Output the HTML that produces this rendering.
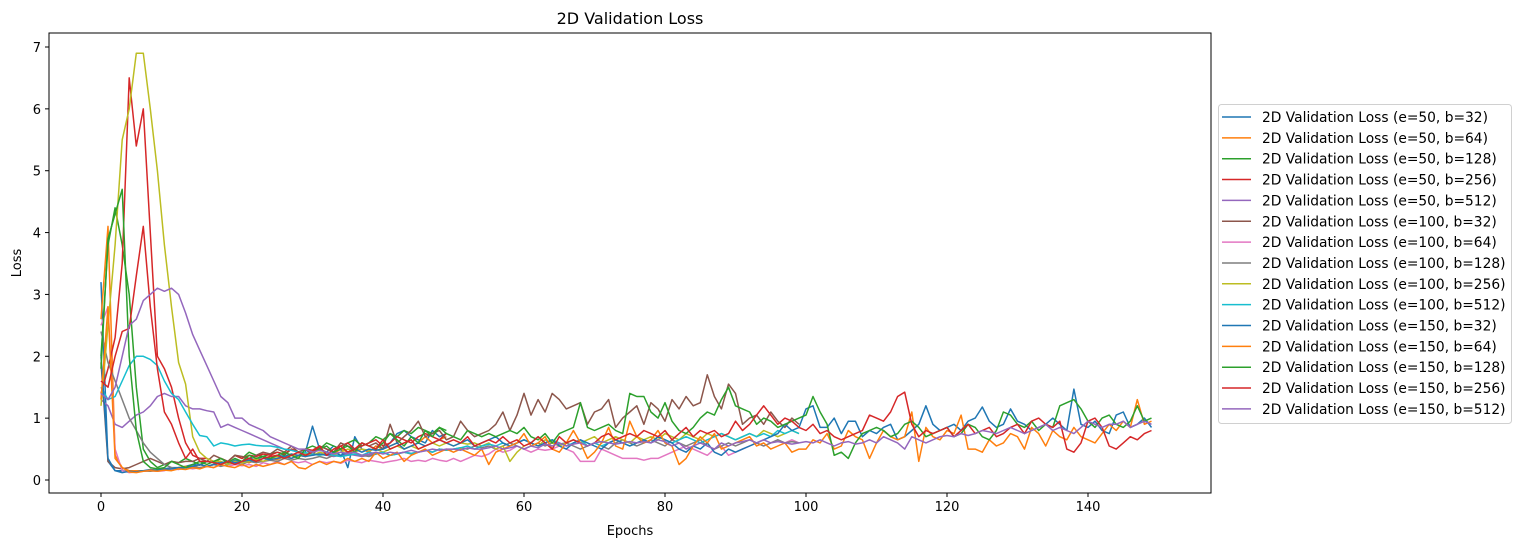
<!DOCTYPE html>
<html><head><meta charset="utf-8"><style>
body{margin:0;background:#fff;width:1522px;height:547px;overflow:hidden;font-family:"DejaVu Sans","Liberation Sans",sans-serif;}
svg text{font-family:"DejaVu Sans","Liberation Sans",sans-serif;}
</style></head><body>
<svg id="chart" width="1522" height="547" xmlns="http://www.w3.org/2000/svg"></svg>
<script>
const xTicks=[0,20,40,60,80,100,120,140];
const yTicks=[0,1,2,3,4,5,6,7];
const seriesLabels=["2D Validation Loss (e=50, b=32)","2D Validation Loss (e=50, b=64)","2D Validation Loss (e=50, b=128)","2D Validation Loss (e=50, b=256)","2D Validation Loss (e=50, b=512)","2D Validation Loss (e=100, b=32)","2D Validation Loss (e=100, b=64)","2D Validation Loss (e=100, b=128)","2D Validation Loss (e=100, b=256)","2D Validation Loss (e=100, b=512)","2D Validation Loss (e=150, b=32)","2D Validation Loss (e=150, b=64)","2D Validation Loss (e=150, b=128)","2D Validation Loss (e=150, b=256)","2D Validation Loss (e=150, b=512)"];
const colors=["#1f77b4","#ff7f0e","#2ca02c","#d62728","#9467bd","#8c564b","#e377c2","#7f7f7f","#bcbd22","#17becf","#1f77b4","#ff7f0e","#2ca02c","#d62728","#9467bd"];
const s1=[3.2,0.3,0.15,0.15,0.14,0.15,0.15,0.17,0.16,0.18,0.2,0.2,0.22,0.25,0.24,0.3,0.28,0.3,0.25,0.32,0.3,0.35,0.33,0.38,0.35,0.4,0.38,0.42,0.4,0.45,0.87,0.5,0.45,0.55,0.5,0.2,0.7,0.5,0.45,0.55,0.5,0.6,0.75,0.8,0.7,0.65,0.6,0.8,0.7,0.75];
const s2=[2.6,4.1,0.4,0.2,0.15,0.15,0.14,0.16,0.15,0.17,0.18,0.2,0.22,0.2,0.25,0.22,0.25,0.28,0.3,0.27,0.3,0.28,0.32,0.3,0.35,0.33,0.38,0.35,0.4,0.38,0.42,0.4,0.45,0.42,0.5,0.45,0.48,0.5,0.45,0.55,0.5,0.55,0.6,0.5,0.55,0.6,0.7,0.6,0.65,0.7];
const s3=[2.0,3.8,4.4,3.8,3.0,1.5,0.5,0.3,0.2,0.25,0.3,0.28,0.35,0.3,0.25,0.3,0.28,0.35,0.3,0.4,0.35,0.45,0.4,0.38,0.42,0.45,0.4,0.5,0.45,0.5,0.55,0.5,0.6,0.55,0.5,0.6,0.65,0.55,0.6,0.7,0.65,0.75,0.7,0.8,0.75,0.85,0.8,0.75,0.85,0.8];
const s4=[1.4,1.8,2.3,3.5,6.5,5.4,6.0,4.0,2.0,1.8,1.5,1.0,0.6,0.4,0.35,0.35,0.3,0.35,0.3,0.4,0.35,0.4,0.38,0.42,0.4,0.45,0.42,0.5,0.45,0.5,0.48,0.55,0.5,0.45,0.55,0.6,0.5,0.55,0.6,0.65,0.55,0.6,0.7,0.65,0.6,0.7,0.75,0.7,0.65,0.75];
const s5=[1.3,1.2,0.9,0.85,0.95,1.05,1.1,1.2,1.35,1.4,1.35,1.35,1.2,1.15,1.15,1.12,1.1,0.85,0.9,0.85,0.8,0.75,0.7,0.65,0.6,0.55,0.5,0.48,0.45,0.42,0.4,0.42,0.4,0.38,0.4,0.42,0.4,0.38,0.4,0.42,0.45,0.4,0.42,0.45,0.43,0.45,0.48,0.45,0.5,0.48];
const s6=[1.9,0.3,0.2,0.18,0.2,0.25,0.3,0.35,0.3,0.25,0.3,0.28,0.3,0.3,0.35,0.3,0.4,0.35,0.3,0.4,0.38,0.35,0.4,0.45,0.42,0.5,0.45,0.55,0.45,0.5,0.4,0.55,0.5,0.45,0.6,0.55,0.5,0.6,0.55,0.6,0.5,0.9,0.6,0.7,0.8,0.95,0.7,0.75,0.8,0.65,0.7,0.95,0.8,0.7,0.75,0.8,0.9,1.1,0.8,1.05,1.4,1.05,1.3,1.1,1.4,1.3,1.15,1.2,1.25,0.9,1.1,1.15,1.3,0.85,1.0,1.1,1.2,0.9,1.25,1.15,0.95,1.3,1.15,1.35,1.2,1.25,1.7,1.35,1.15,1.55,1.4,0.9,1.0,1.05,0.9,1.1,0.95,0.85,1.0,0.9];
const s7=[2.5,2.8,0.5,0.15,0.12,0.13,0.14,0.15,0.14,0.15,0.18,0.17,0.2,0.18,0.2,0.22,0.2,0.25,0.22,0.25,0.23,0.25,0.22,0.28,0.25,0.3,0.25,0.3,0.28,0.3,0.25,0.3,0.28,0.3,0.27,0.32,0.3,0.28,0.32,0.3,0.28,0.3,0.32,0.35,0.3,0.32,0.3,0.35,0.32,0.3,0.35,0.3,0.35,0.4,0.38,0.42,0.5,0.45,0.48,0.55,0.5,0.45,0.5,0.48,0.5,0.55,0.5,0.45,0.3,0.3,0.3,0.5,0.45,0.4,0.35,0.35,0.35,0.32,0.35,0.35,0.4,0.45,0.5,0.55,0.5,0.45,0.4,0.5,0.55,0.4,0.45,0.5,0.55,0.6,0.55,0.6,0.65,0.6,0.65,0.6];
const s8=[2.4,1.9,1.6,1.3,1.0,0.8,0.6,0.45,0.35,0.25,0.2,0.18,0.2,0.22,0.2,0.22,0.25,0.22,0.25,0.28,0.25,0.3,0.28,0.3,0.32,0.3,0.35,0.32,0.35,0.33,0.35,0.38,0.35,0.4,0.38,0.4,0.42,0.4,0.38,0.42,0.45,0.4,0.42,0.45,0.42,0.45,0.48,0.45,0.5,0.48,0.5,0.52,0.5,0.55,0.52,0.55,0.5,0.55,0.6,0.55,0.5,0.55,0.6,0.55,0.6,0.58,0.6,0.55,0.5,0.55,0.6,0.55,0.5,0.6,0.65,0.6,0.55,0.6,0.65,0.6,0.55,0.65,0.6,0.55,0.6,0.65,0.55,0.5,0.55,0.6,0.55,0.6,0.65,0.6,0.55,0.6,0.65,0.6,0.62,0.6];
const s9=[1.2,2.5,3.8,5.5,6.0,6.9,6.9,6.0,5.0,3.8,2.8,1.9,1.55,0.7,0.45,0.35,0.3,0.3,0.25,0.3,0.28,0.3,0.35,0.3,0.35,0.38,0.35,0.4,0.38,0.42,0.4,0.45,0.42,0.4,0.45,0.5,0.45,0.5,0.48,0.5,0.45,0.5,0.55,0.5,0.55,0.5,0.55,0.6,0.55,0.6,0.55,0.6,0.58,0.6,0.55,0.6,0.5,0.55,0.3,0.45,0.55,0.6,0.55,0.65,0.6,0.55,0.6,0.65,0.6,0.65,0.7,0.6,0.65,0.7,0.65,0.6,0.7,0.65,0.7,0.65,0.75,0.7,0.65,0.75,0.7,0.65,0.75,0.7,0.75,0.7,0.65,0.7,0.75,0.7,0.8,0.75,0.7,0.75,0.8,0.75];
const s10=[1.5,1.3,1.35,1.6,1.85,2.0,2.0,1.95,1.85,1.6,1.4,1.3,1.1,0.9,0.72,0.7,0.55,0.6,0.58,0.55,0.57,0.58,0.56,0.55,0.55,0.53,0.5,0.48,0.45,0.44,0.42,0.4,0.42,0.4,0.38,0.4,0.42,0.4,0.45,0.42,0.45,0.4,0.42,0.45,0.43,0.45,0.48,0.45,0.5,0.48,0.5,0.52,0.55,0.5,0.55,0.58,0.55,0.6,0.55,0.6,0.65,0.6,0.7,0.6,0.65,0.6,0.55,0.6,0.65,0.55,0.6,0.55,0.6,0.65,0.6,0.55,0.6,0.65,0.6,0.7,0.65,0.6,0.65,0.7,0.65,0.6,0.65,0.7,0.75,0.7,0.65,0.7,0.75,0.7,0.75,0.7,0.8,0.75,0.8,0.75];
const s11=[2.0,0.35,0.15,0.12,0.14,0.13,0.15,0.14,0.16,0.17,0.18,0.2,0.2,0.22,0.25,0.22,0.25,0.28,0.3,0.28,0.3,0.32,0.3,0.35,0.33,0.35,0.38,0.35,0.4,0.38,0.4,0.42,0.4,0.45,0.4,0.45,0.5,0.45,0.5,0.48,0.5,0.55,0.6,0.5,0.55,0.6,0.55,0.6,0.65,0.6,
0.55,0.6,0.65,0.55,0.6,0.65,0.7,0.6,0.55,0.6,0.65,0.6,0.55,0.6,0.65,0.55,0.5,0.6,0.65,0.6,0.55,0.5,0.6,0.65,0.6,0.55,0.6,0.65,0.6,0.7,0.65,0.6,0.5,0.45,0.55,0.5,0.6,0.45,0.4,0.5,0.45,0.5,0.55,0.6,0.65,0.7,0.75,0.9,0.8,0.85,
1.15,1.2,0.85,0.85,1.0,0.75,0.95,0.95,0.7,0.8,0.75,0.85,0.9,0.65,0.7,0.8,0.9,1.2,0.9,0.8,0.85,0.9,0.8,0.95,1.0,1.18,0.95,0.85,0.9,1.15,0.95,0.9,0.8,0.85,0.9,1.0,0.9,0.8,1.47,0.9,0.85,0.95,0.8,0.75,1.05,1.1,0.85,0.9,1.0,0.85];
const s12=[1.3,2.8,0.35,0.2,0.13,0.12,0.14,0.15,0.14,0.16,0.15,0.18,0.17,0.2,0.18,0.22,0.2,0.25,0.22,0.2,0.25,0.2,0.25,0.22,0.25,0.28,0.25,0.3,0.2,0.18,0.25,0.3,0.25,0.3,0.28,0.35,0.3,0.35,0.3,0.45,0.35,0.4,0.45,0.3,0.4,0.45,0.5,0.4,0.45,0.5,
0.45,0.5,0.45,0.4,0.5,0.25,0.45,0.5,0.55,0.6,0.75,0.55,0.6,0.7,0.5,0.45,0.6,0.8,0.6,0.35,0.45,0.6,0.85,0.55,0.5,0.95,0.7,0.6,0.65,0.8,0.6,0.55,0.25,0.35,0.55,0.7,0.6,0.75,0.5,0.55,0.6,0.65,0.7,0.55,0.6,0.5,0.55,0.6,0.45,0.5,
0.5,0.65,0.6,0.75,0.5,0.55,0.8,0.7,0.65,0.35,0.6,0.8,0.7,0.65,0.7,1.1,0.3,0.85,0.7,0.65,0.8,0.75,1.05,0.5,0.5,0.45,0.65,0.55,0.6,0.75,0.7,0.5,0.85,0.75,0.55,0.8,0.7,0.65,0.85,0.7,0.65,0.6,0.75,0.9,0.8,0.95,0.85,1.3,0.9,0.95];
const s13=[1.8,3.9,4.3,4.7,2.0,0.8,0.3,0.2,0.18,0.2,0.3,0.25,0.2,0.25,0.3,0.25,0.3,0.35,0.28,0.35,0.3,0.4,0.35,0.38,0.35,0.4,0.45,0.4,0.35,0.5,0.45,0.5,0.55,0.45,0.5,0.55,0.45,0.6,0.55,0.5,0.6,0.75,0.65,0.55,0.7,0.6,0.8,0.7,0.85,0.75,
0.7,0.65,0.8,0.75,0.7,0.75,0.7,0.75,0.8,0.75,0.85,0.7,0.65,0.75,0.6,0.75,0.8,0.85,1.25,0.85,0.8,0.85,0.9,0.8,0.75,1.4,1.35,1.35,1.1,1.0,1.25,0.95,0.8,0.75,0.85,1.0,1.1,1.05,1.3,1.5,1.2,1.15,1.1,0.9,1.0,0.95,0.85,0.9,0.95,1.0,
1.05,1.35,1.1,0.9,0.4,0.45,0.35,0.6,0.75,0.8,0.85,0.8,0.7,0.75,0.9,0.95,0.85,0.7,0.75,0.8,0.85,0.7,0.75,0.9,0.85,0.7,0.65,0.8,1.1,1.05,0.9,0.85,0.95,0.8,0.9,0.85,1.2,1.25,1.3,1.15,0.95,0.85,1.0,1.05,0.9,0.85,0.95,1.2,0.95,1.0];
const s14=[1.6,1.5,2.0,2.4,2.45,3.3,4.1,2.8,1.8,1.1,0.9,0.6,0.35,0.5,0.3,0.3,0.28,0.25,0.3,0.25,0.3,0.35,0.3,0.35,0.38,0.4,0.35,0.4,0.45,0.4,0.45,0.55,0.4,0.5,0.55,0.45,0.5,0.6,0.55,0.5,0.65,0.5,0.55,0.6,0.65,0.5,0.55,0.6,0.65,0.6,
0.65,0.6,0.7,0.55,0.6,0.65,0.6,0.7,0.6,0.65,0.55,0.6,0.7,0.6,0.5,0.7,0.6,0.65,0.6,0.55,0.6,0.7,0.75,0.65,0.7,0.75,0.7,0.8,0.75,0.7,0.8,0.65,0.75,0.85,0.7,0.8,0.75,0.8,0.7,0.75,0.95,0.8,0.9,1.05,1.2,1.05,0.9,1.0,0.95,0.85,
0.8,0.9,0.75,0.8,0.7,0.65,0.7,0.75,0.8,1.05,1.0,0.95,1.1,1.35,1.42,0.9,0.7,0.8,0.75,0.8,0.85,0.7,0.8,0.9,0.75,0.8,0.85,0.7,0.75,0.85,0.9,0.75,0.95,1.0,0.9,0.85,0.95,0.5,0.45,0.6,0.95,1.0,0.85,0.55,0.5,0.6,0.7,0.65,0.75,0.8];
const s15=[1.4,1.3,1.5,2.0,2.5,2.6,2.9,3.0,3.1,3.05,3.1,3.0,2.7,2.35,2.1,1.85,1.6,1.35,1.25,1.0,1.0,0.9,0.85,0.8,0.7,0.65,0.6,0.55,0.5,0.5,0.45,0.48,0.45,0.42,0.45,0.43,0.45,0.4,0.42,0.45,0.42,0.45,0.43,0.45,0.48,0.45,0.47,0.5,0.48,0.5,
0.5,0.48,0.52,0.5,0.5,0.52,0.55,0.5,0.52,0.55,0.5,0.55,0.52,0.58,0.55,0.6,0.55,0.58,0.6,0.55,0.6,0.62,0.6,0.58,0.6,0.62,0.6,0.62,0.6,0.65,0.62,0.55,0.6,0.5,0.55,0.6,0.55,0.5,0.6,0.55,0.6,0.62,0.65,0.6,0.65,0.6,0.62,0.6,0.58,0.6,
0.62,0.6,0.65,0.6,0.55,0.6,0.62,0.58,0.6,0.65,0.6,0.7,0.65,0.6,0.5,0.7,0.65,0.6,0.65,0.7,0.72,0.7,0.75,0.72,0.75,0.8,0.78,0.75,0.8,0.85,0.8,0.75,0.8,0.85,0.9,0.8,0.85,0.8,0.75,0.85,0.95,0.9,0.85,0.9,0.9,0.95,0.85,0.9,0.95,0.9];
const seriesValues=[s1,s2,s3,s4,s5,s6,s7,s8,s9,s10,s11,s12,s13,s14,s15];

const NS="http://www.w3.org/2000/svg";
const svg=document.getElementById('chart');
const L=49,R=1211,T=33,B=493;
function xScale(v){return 101+v*(1088-101)/140;}
function yScale(v){return 480-v*(480-47)/7;}
function mk(tag,attrs,parent){const e=document.createElementNS(NS,tag);for(const k in attrs)e.setAttribute(k,attrs[k]);(parent||svg).appendChild(e);return e;}

const title=mk('text',{x:(L+R)/2,y:24,'text-anchor':'middle','font-size':'16',fill:'#000'});


title.textContent='2D Validation Loss';

const plot=mk('g',{});


seriesValues.forEach((vals,i)=>{
  const pts=vals.map((v,j)=>xScale(j).toFixed(1)+','+yScale(v).toFixed(1)).join(' ');
  const pl=mk('polyline',{points:pts,fill:'none',stroke:colors[i],'stroke-width':'1.5','stroke-linejoin':'round'},plot);
  
  
});

const frame=mk('rect',{x:L,y:T,width:R-L,height:B-T,fill:'none',stroke:'#000','stroke-width':'1'});



xTicks.forEach(t=>{
  const x=xScale(t);
  mk('line',{x1:x,y1:B,x2:x,y2:B+4,stroke:'#000'});
  const tx=mk('text',{x:x,y:B+18,'text-anchor':'middle','font-size':'13',fill:'#000'});
  
  
  tx.textContent=t;
});
yTicks.forEach(t=>{
  const y=yScale(t);
  mk('line',{x1:L-4,y1:y,x2:L,y2:y,stroke:'#000'});
  const ty=mk('text',{x:L-8,y:y+5,'text-anchor':'end','font-size':'13',fill:'#000'});
  
  
  ty.textContent=t;
});
const xl=mk('text',{x:(L+R)/2,y:535,'text-anchor':'middle','font-size':'13',fill:'#000'});


xl.textContent='Epochs';
const yl=mk('text',{x:0,y:0,'text-anchor':'middle','font-size':'13',fill:'#000',transform:'translate(21,263) rotate(-90)'});


yl.textContent='Loss';

const leg=mk('g',{});


mk('rect',{x:1218.5,y:104.5,width:293,height:319,rx:3,fill:'#fff',stroke:'#d0d0d0'},leg);
seriesLabels.forEach((lab,i)=>{
  const y=117+i*20.85;
  const g=mk('g',{},leg);
  
  
  mk('line',{x1:1222,y1:y,x2:1251,y2:y,stroke:colors[i],'stroke-width':'1.5'},g);
  const t=mk('text',{x:1262,y:y+5,'font-size':'13.8',fill:'#000'},g);
  t.textContent=lab;
});
</script>
</body></html>
